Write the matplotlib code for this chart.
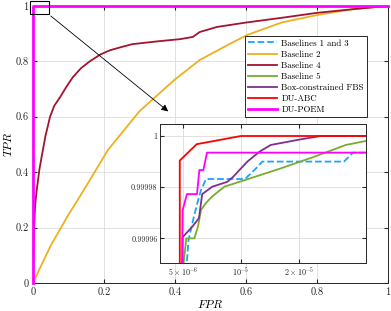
import numpy as np
import matplotlib.pyplot as plt
from matplotlib.patches import Rectangle

plt.rcParams['font.family'] = 'serif'
plt.rcParams['font.serif'] = ['cmr10', 'DejaVu Serif']
plt.rcParams['mathtext.fontset'] = 'cm'
plt.rcParams['axes.formatter.use_mathtext'] = True

# ---- main ROC curves (FPR, TPR) ----
b2_fpr = [0, 0.02, 0.05, 0.096, 0.15, 0.211, 0.3, 0.4, 0.47, 0.55, 0.603, 0.7, 0.8, 0.9, 1.0]
b2_tpr = [0, 0.055, 0.135, 0.238, 0.35, 0.48, 0.62, 0.735, 0.805, 0.86, 0.895, 0.94, 0.967, 0.988, 1.0]

b4_fpr = [0, 0.001, 0.003, 0.006, 0.01, 0.018, 0.025, 0.035, 0.048, 0.06, 0.076, 0.095,
          0.113, 0.135, 0.16, 0.19, 0.217, 0.25, 0.28, 0.35, 0.414, 0.45, 0.47, 0.518, 0.6, 0.7, 0.8, 0.9, 1.0]
b4_tpr = [0, 0.1, 0.2, 0.28, 0.33, 0.41, 0.46, 0.53, 0.6, 0.64, 0.67, 0.71,
          0.744, 0.775, 0.8, 0.825, 0.84, 0.852, 0.862, 0.872, 0.88, 0.888, 0.906, 0.924, 0.94, 0.957, 0.975, 0.988, 1.0]

top_fpr = [0, 0, 1.0]
top_tpr = [0, 1.0, 1.0]

# ---- inset (zoomed) curves ----
b13_fpr = [5.1e-6, 5.33e-6, 5.58e-6, 5.92e-6, 6.19e-6, 6.58e-6, 1.05e-5, 1.20e-5, 1.29e-5, 3.44e-5, 3.83e-5, 5e-5]
b13_tpr = [0.99994, 0.9999594, 0.9999659, 0.9999737, 0.9999789, 0.9999832, 0.9999832,
           0.9999874, 0.99999, 0.99999, 0.9999935, 0.9999935]

b5_fpr = [4.85e-6, 5.19e-6, 5.71e-6, 5.97e-6, 6.19e-6, 6.55e-6, 7.06e-6, 8.19e-6, 1.08e-5,
          1.62e-5, 2.41e-5, 3.52e-5, 4.57e-5]
b5_tpr = [0.99994, 0.99996, 0.99996, 0.9999646, 0.9999711, 0.9999737, 0.9999763, 0.9999802,
          0.9999831, 0.9999874, 0.9999919, 0.9999965, 0.9999982]

fbs_fpr = [4.95e-6, 4.97e-6, 5.58e-6, 6.04e-6, 6.22e-6, 6.28e-6, 7.09e-6, 8.49e-6, 9.06e-6,
           1.08e-5, 1.25e-5, 1.43e-5, 2.05e-5, 2.61e-5, 5e-5]
fbs_tpr = [0.99994, 0.9999605, 0.9999646, 0.9999679, 0.999975, 0.9999773, 0.9999802, 0.9999821,
           0.9999839, 0.99999, 0.9999939, 0.9999965, 0.9999987, 1.0, 1.0]

abc_fpr = [4.8e-6, 4.8e-6, 5.88e-6, 1e-5, 5e-5]
abc_tpr = [0.99994, 0.9999904, 0.9999968, 1.0, 1.0]

poem_fpr = [4.91e-6, 4.97e-6, 5.23e-6, 5.90e-6, 6.07e-6, 6.37e-6, 6.65e-6, 5e-5]
poem_tpr = [0.99994, 0.9999711, 0.9999773, 0.9999773, 0.9999867, 0.9999867, 0.9999935, 0.9999935]

c_b13 = '#1aa3ff'
c_b2 = '#EDB120'
c_b4 = '#A2142F'
c_b5 = '#77AC30'
c_fbs = '#7E2F8E'
c_abc = '#ff0000'
c_poem = '#ff00ff'
edge = '#262626'

fig = plt.figure(figsize=(3.91, 3.11), dpi=100)
ax = fig.add_axes([0.0844, 0.090, 0.908, 0.891])

ax.plot(top_fpr, top_tpr, '--', color=c_b13, lw=1.3, label='Baselines 1 and 3')
ax.plot(b2_fpr, b2_tpr, color=c_b2, lw=1.3, label='Baseline 2')
ax.plot(b4_fpr, b4_tpr, color=c_b4, lw=1.3, label='Baseline 4')
ax.plot(top_fpr, top_tpr, color=c_b5, lw=1.3, label='Baseline 5')
ax.plot(top_fpr, top_tpr, color=c_fbs, lw=1.3, label='Box-constrained FBS')
ax.plot(top_fpr, top_tpr, color=c_abc, lw=1.3, label='DU-ABC')
ax.plot(top_fpr, top_tpr, color=c_poem, lw=2.0, label='DU-POEM', clip_on=False, zorder=3)

ax.set_xlim(0, 1)
ax.set_ylim(0, 1)
ax.set_xticks(np.arange(0, 1.01, 0.2))
ax.set_yticks(np.arange(0, 1.01, 0.2))
ax.set_xticklabels(['0', '0.2', '0.4', '0.6', '0.8', '1'])
ax.set_yticklabels(['0', '0.2', '0.4', '0.6', '0.8', '1'])
ax.tick_params(direction='in', top=True, right=True, labelsize=7.5, length=3, colors=edge, pad=3)
ax.grid(True, color='#dcdcdc', lw=0.6)
ax.set_axisbelow(True)
for s in ax.spines.values():
    s.set_color(edge)
    s.set_linewidth(0.7)
ax.set_xlabel('$FPR$', fontsize=8.5, labelpad=1)
ax.set_ylabel('$TPR$', fontsize=8.5, labelpad=1)

ax.add_patch(Rectangle((-0.0076, 0.970), 0.052, 0.047, fill=False, ec='black', lw=0.8,
                       clip_on=False, zorder=5))
ax.annotate('', xy=(0.387, 0.613), xytext=(0.044, 0.970),
            arrowprops=dict(arrowstyle='-|>', color='black', lw=0.6, mutation_scale=10))

leg = ax.legend(loc='upper right', bbox_to_anchor=(367 / 391, 1 - 36 / 311),
                bbox_transform=fig.transFigure, fontsize=6.4, frameon=True, fancybox=False,
                edgecolor=edge, framealpha=1, handlelength=3.3, handletextpad=0.45,
                labelspacing=0.3, borderpad=0.35, borderaxespad=0)
leg.get_frame().set_linewidth(0.7)
leg.set_zorder(6)

# ---- inset ----
ins = fig.add_axes([0.41, 0.1553, 0.527, 0.4461])
ins.plot(b13_fpr, b13_tpr, '--', color=c_b13, lw=1.3)
ins.plot(b5_fpr, b5_tpr, color=c_b5, lw=1.3)
ins.plot(fbs_fpr, fbs_tpr, color=c_fbs, lw=1.3)
ins.plot(abc_fpr, abc_tpr, color=c_abc, lw=1.3)
ins.plot(poem_fpr, poem_tpr, color=c_poem, lw=1.3)
ins.set_xscale('log')
ins.set_xlim(3.8e-6, 4.5e-5)
ins.set_ylim(0.9999505, 1.0000047)
ins.set_xticks([5e-6, 1e-5, 2e-5])
ins.set_xticklabels([r'$5\times10^{-6}$', r'$10^{-5}$', r'$2\times10^{-5}$'])
ins.xaxis.set_minor_locator(plt.NullLocator())
ins.set_yticks([0.99996, 0.99998, 1.0])
ins.set_yticklabels(['0.99996', '0.99998', '1'])
ins.tick_params(direction='in', top=True, right=True, labelsize=5.8, length=3, colors=edge, pad=2)
ins.grid(True, color='#dcdcdc', lw=0.6)
ins.set_axisbelow(True)
for s in ins.spines.values():
    s.set_color(edge)
    s.set_linewidth(0.7)

fig.savefig('out.png', dpi=100)
